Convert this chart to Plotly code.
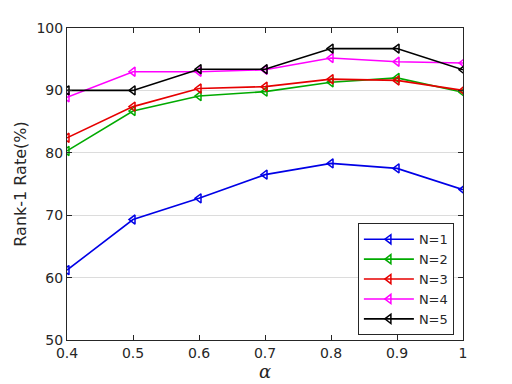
import plotly.graph_objects as go

# alpha values on the x axis
alpha = [0.4, 0.5, 0.6, 0.7, 0.8, 0.9, 1.0]
x_tick_labels = ["0.4", "0.5", "0.6", "0.7", "0.8", "0.9", "1"]
y_ticks = [50, 60, 70, 80, 90, 100]

# Rank-1 rate (%) for each N
n1 = [61.2, 69.3, 72.7, 76.5, 78.3, 77.5, 74.1]
n2 = [80.3, 86.7, 89.1, 89.8, 91.3, 92.0, 89.7]
n3 = [82.4, 87.4, 90.3, 90.6, 91.8, 91.6, 90.0]
n4 = [88.9, 93.0, 93.0, 93.3, 95.2, 94.6, 94.4]
n5 = [90.0, 90.0, 93.4, 93.4, 96.7, 96.7, 93.3]

series = [
    ("N=1", n1, "#0000e6"),
    ("N=2", n2, "#00aa00"),
    ("N=3", n3, "#e60000"),
    ("N=4", n4, "#ff00ff"),
    ("N=5", n5, "#000000"),
]

fig = go.Figure()
for name, vals, color in series:
    fig.add_trace(go.Scatter(
        x=alpha, y=vals, name=name, mode="lines+markers",
        line=dict(color=color, width=1.6),
        marker=dict(symbol="triangle-left-open", size=8, color=color,
                    line=dict(width=1.5, color=color)),
    ))

axis_common = dict(
    showline=True, linecolor="#262626", linewidth=1, mirror="ticks",
    ticks="inside", ticklen=5, tickcolor="#262626",
    tickfont=dict(family="DejaVu Sans", size=14, color="#262626"),
    zeroline=False, automargin=False,
)

# page body adds an 8px offset, so margins are trimmed to compensate
fig.update_layout(
    width=512, height=384,
    margin=dict(l=59, r=57, t=20, b=52),
    paper_bgcolor="white", plot_bgcolor="white",
    font=dict(family="DejaVu Sans", color="#262626"),
    xaxis=dict(
        range=[0.4, 1.0], tickvals=alpha, ticktext=x_tick_labels,
        showgrid=False,
        title=dict(text="<i>α</i>", font=dict(family="DejaVu Serif", size=18), standoff=3),
        **axis_common,
    ),
    yaxis=dict(
        range=[50, 100], tickvals=y_ticks,
        showgrid=True, gridcolor="#dcdcdc", gridwidth=1,
        title=dict(text="Rank-1 Rate(%)", font=dict(size=16), standoff=5),
        **axis_common,
    ),
    legend=dict(
        x=0.977, y=0.015, xanchor="right", yanchor="bottom",
        bgcolor="white", bordercolor="#262626", borderwidth=1,
        font=dict(size=13, color="#262626"),
        itemwidth=50, tracegroupgap=0,
    ),
)

fig.write_html("out.html")
